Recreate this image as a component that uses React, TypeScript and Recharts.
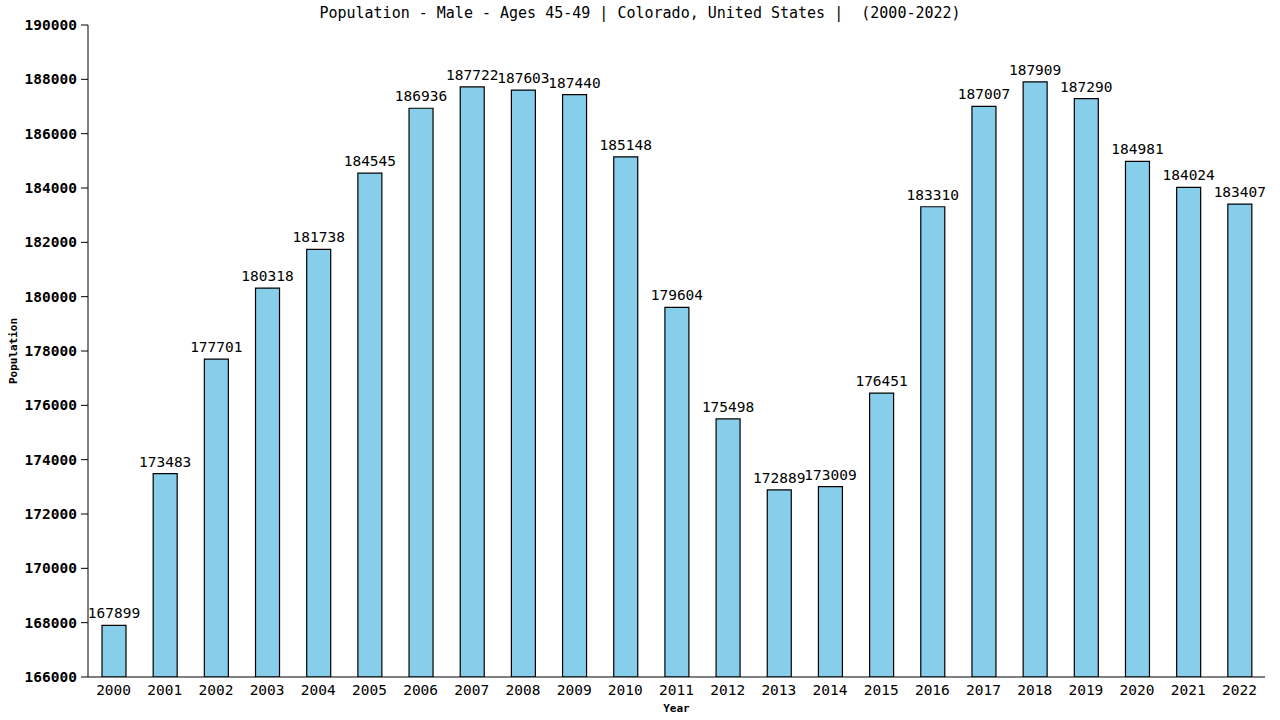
import { BarChart, Bar, XAxis, YAxis, LabelList } from "recharts";

const years = [
  "2000", "2001", "2002", "2003", "2004", "2005", "2006", "2007", "2008", "2009", "2010", "2011",
  "2012", "2013", "2014", "2015", "2016", "2017", "2018", "2019", "2020", "2021", "2022",
];
const population = [
  167899, 173483, 177701, 180318, 181738, 184545, 186936, 187722, 187603, 187440, 185148, 179604,
  175498, 172889, 173009, 176451, 183310, 187007, 187909, 187290, 184981, 184024, 183407,
];
const yTicks = [166000, 168000, 170000, 172000, 174000, 176000, 178000, 180000, 182000, 184000, 186000, 188000, 190000];

const TITLE = "Population - Male - Ages 45-49 | Colorado, United States |  (2000-2022)";
const FONT = "'DejaVu Sans Mono', monospace";

const data = years.map((y, i) => ({ year: y, value: population[i] }));

export default function App() {
  return (
    <div style={{ position: "absolute", left: 0, top: 0, width: 1280, height: 720, background: "#fff", fontFamily: FONT }}>
      <div
        style={{
          position: "absolute",
          top: 4,
          left: 0,
          width: 1280,
          textAlign: "center",
          fontSize: 15,
          color: "#000",
          whiteSpace: "pre",
        }}
      >
        {TITLE}
      </div>
      <BarChart width={1280} height={720} data={data} margin={{ top: 25, right: 15, left: 8, bottom: 0 }} barSize={24}>
        <XAxis
          dataKey="year"
          tickLine={false}
          axisLine={{ stroke: "#000" }}
          tick={{ fontSize: 14.5, fill: "#000", fontFamily: FONT }}
          tickMargin={2}
          height={43}
          interval={0}
          label={{ value: "Year", position: "insideBottom", offset: 8, style: { fontSize: 11, fontWeight: "bold", fill: "#000", fontFamily: FONT } }}
        />
        <YAxis
          domain={[166000, 190000]}
          ticks={yTicks}
          allowDataOverflow
          width={80}
          tickSize={7}
          tickMargin={4}
          tickLine={{ stroke: "#000" }}
          axisLine={{ stroke: "#000" }}
          tick={{ fontSize: 14.5, fontWeight: "bold", fill: "#000", fontFamily: FONT }}
          label={{ value: "Population", angle: -90, position: "insideLeft", offset: 5, style: { fontSize: 11, fontWeight: "bold", fill: "#000", fontFamily: FONT, textAnchor: "middle" } }}
        />
        <YAxis yAxisId="r" orientation="right" width={0} tick={false} tickLine={false} axisLine={{ stroke: "#000" }} domain={[0, 1]} />
        <Bar dataKey="value" fill="#87CEEB" stroke="#000" strokeWidth={1.2} isAnimationActive={false}>
          <LabelList dataKey="value" position="top" offset={7} style={{ fontSize: 14.5, fill: "#000", fontFamily: FONT }} />
        </Bar>
      </BarChart>
    </div>
  );
}
